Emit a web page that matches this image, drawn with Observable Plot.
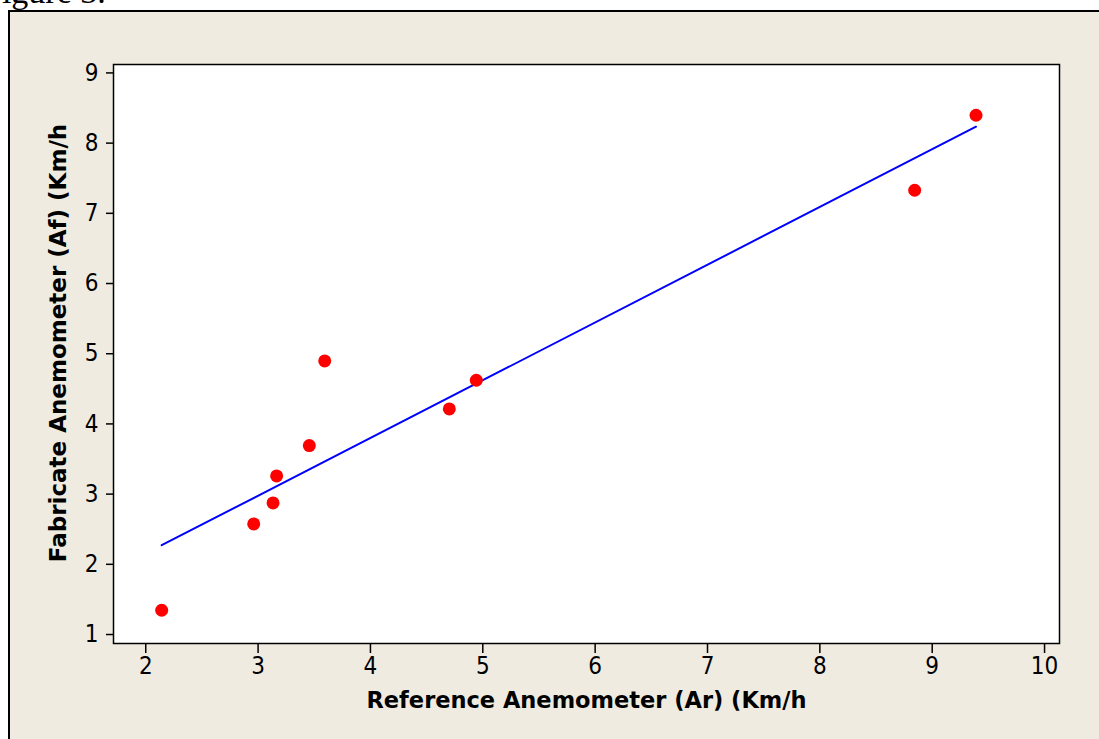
<!DOCTYPE html>
<html>
<head>
<meta charset="utf-8">
<script src="https://cdn.jsdelivr.net/npm/d3@7"></script>
<script src="https://cdn.jsdelivr.net/npm/@observablehq/plot@0.6"></script>
<style>
  html, body { margin: 0; padding: 0; background: #ffffff; }
  #page { position: relative; width: 1099px; height: 739px; overflow: hidden; background: #ffffff; }
  #box { position: absolute; left: 8px; top: 10px; width: 1200px; height: 800px;
         background: #EFEBE1; border-left: 2px solid #000; border-top: 2px solid #000; }
  #fig { position: absolute; left: 0; top: 0; }
  #chart { position: absolute; left: 0; top: 0; }
</style>
</head>
<body>
<div id="page">
  <svg id="fig" width="200" height="12"><text x="-17" y="3" font-family="Liberation Serif, serif" font-size="34" fill="#000">Figure 3.</text></svg>
  <div id="box"></div>
  <div id="chart"></div>
</div>
<script>
// Reference anemometer readings (Ar, km/h)
const refSpeed = [2.142, 2.961, 3.133, 3.165, 3.456, 3.593, 4.702, 4.942, 8.844, 9.390];
// Fabricated anemometer readings (Af, km/h)
const fabSpeed = [1.346, 2.576, 2.875, 3.259, 3.692, 4.897, 4.214, 4.622, 7.329, 8.397];
const xTicks = [2, 3, 4, 5, 6, 7, 8, 9, 10];
const yTicks = [1, 2, 3, 4, 5, 6, 7, 8, 9];
const xTitle = "Reference Anemometer (Ar) (Km/h";
const yTitle = "Fabricate Anemometer (Af) (Km/h";

const data = refSpeed.map((x, i) => ({x, y: fabSpeed[i]}));
const tickFont = "'DejaVu Sans Condensed', 'DejaVu Sans', sans-serif";
const titleFont = "'DejaVu Sans', sans-serif";

const chart = Plot.plot({
  width: 1099,
  height: 739,
  marginLeft: 113,
  marginRight: 40,
  marginTop: 64,
  marginBottom: 96,
  style: {background: "transparent", fontFamily: tickFont, fontSize: "24px", color: "#000", overflow: "visible"},
  x: {domain: [1.713, 10.133]},
  y: {domain: [0.872, 9.12]},
  marks: [
    Plot.frame({fill: "white"}),
    Plot.axisX({ticks: xTicks, tickSize: 10, tickPadding: 3, fontSize: 24, strokeWidth: 1.5, label: null, fill: "#000"}),
    Plot.axisY({ticks: yTicks, tickSize: 7, tickPadding: 8, fontSize: 24, strokeWidth: 1.5, label: null, fill: "#000"}),
    Plot.linearRegressionY(data, {x: "x", y: "y", stroke: "#0000FF", strokeWidth: 2, ci: 0}),
    Plot.dot(data, {x: "x", y: "y", r: 6.5, fill: "#FF0000", stroke: null}),
    Plot.frame({stroke: "#000", strokeWidth: 1.5}),
    Plot.text([xTitle], {frameAnchor: "bottom", dy: 57, text: d => d, fontSize: 22.5, fontWeight: "bold", fontFamily: titleFont, fill: "#000", textAnchor: "middle", lineAnchor: "middle"}),
    Plot.text([yTitle], {frameAnchor: "left", dx: -55, dy: -11, rotate: -90, text: d => d, fontSize: 23, fontWeight: "bold", fontFamily: titleFont, fill: "#000", textAnchor: "middle", lineAnchor: "middle"})
  ]
});
document.getElementById("chart").appendChild(chart);
</script>
</body>
</html>
